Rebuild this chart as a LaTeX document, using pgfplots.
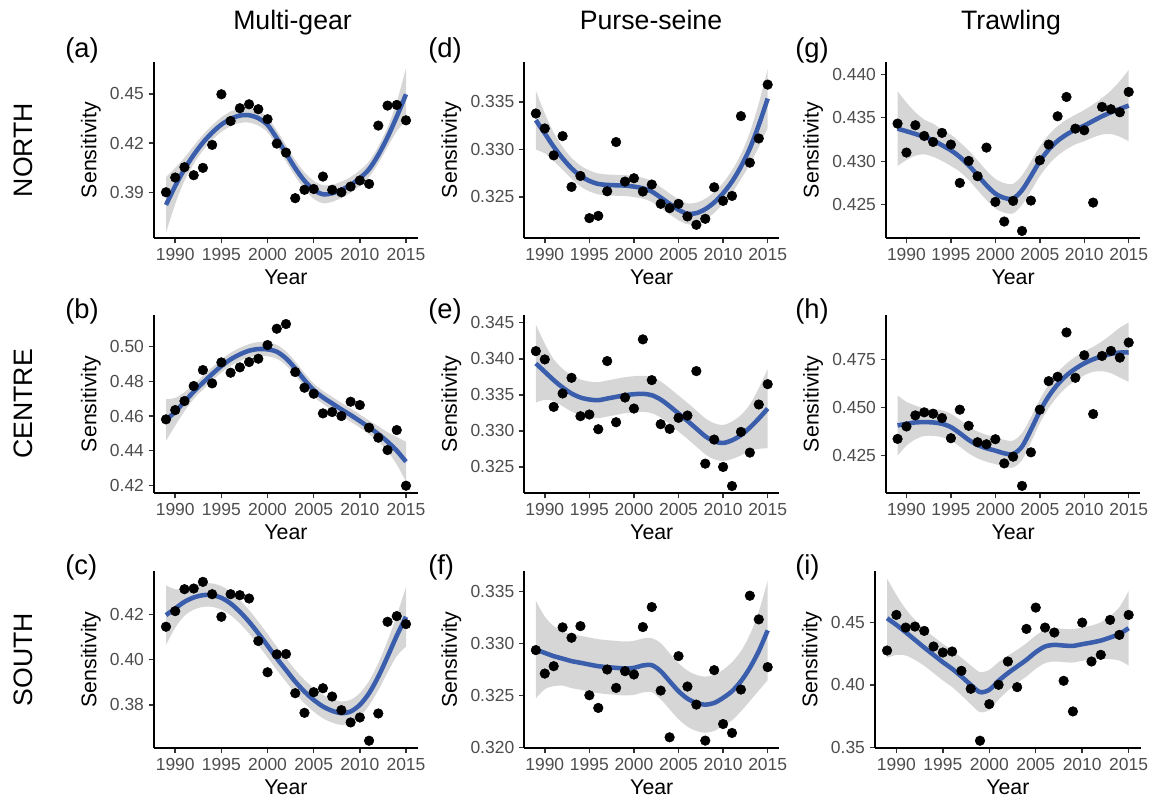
\documentclass[border=0pt]{standalone}
\usepackage{fontspec}
\setmainfont{Liberation Sans}
\usepackage{pgfplots}
\pgfplotsset{compat=1.18}
\usepackage{pgfplotstable}
\usepgfplotslibrary{fillbetween}
\definecolor{fitblue}{RGB}{59,94,172}
\definecolor{bandgray}{HTML}{999999}
\definecolor{tickgray}{HTML}{4D4D4D}

% columns: year, observed point, fitted curve, half-width of band
\pgfplotstableread{
yr p f s
1989 0.3900 0.3823 0.0170
1990 0.3990 0.3939 0.0110
1991 0.4053 0.4041 0.0070
1992 0.4004 0.4128 0.0055
1993 0.4049 0.4203 0.0048
1994 0.4189 0.4264 0.0045
1995 0.4498 0.4313 0.0045
1996 0.4335 0.4348 0.0045
1997 0.4413 0.4368 0.0045
1998 0.4437 0.4370 0.0045
1999 0.4407 0.4352 0.0045
2000 0.4346 0.4311 0.0045
2001 0.4197 0.4230 0.0048
2002 0.4142 0.4138 0.0050
2003 0.3864 0.4047 0.0050
2004 0.3915 0.3970 0.0052
2005 0.3920 0.3915 0.0055
2006 0.3996 0.3888 0.0055
2007 0.3915 0.3894 0.0052
2008 0.3900 0.3915 0.0050
2009 0.3935 0.3945 0.0048
2010 0.3972 0.3986 0.0048
2011 0.3951 0.4041 0.0048
2012 0.4307 0.4128 0.0052
2013 0.4429 0.4236 0.0060
2014 0.4433 0.4362 0.0090
2015 0.4339 0.4498 0.0160
}\tabA
\pgfplotstableread{
yr p f s
1989 0.45808 0.45769 0.0120
1990 0.46346 0.46250 0.0080
1991 0.46865 0.46827 0.0055
1992 0.47731 0.47404 0.0042
1993 0.48654 0.47923 0.0040
1994 0.47885 0.48423 0.0038
1995 0.49096 0.48885 0.0038
1996 0.48500 0.49269 0.0038
1997 0.48808 0.49558 0.0038
1998 0.49115 0.49769 0.0038
1999 0.49308 0.49865 0.0040
2000 0.50096 0.49846 0.0040
2001 0.51038 0.49712 0.0040
2002 0.51308 0.49327 0.0040
2003 0.48538 0.48750 0.0040
2004 0.47635 0.48077 0.0040
2005 0.47288 0.47500 0.0038
2006 0.46154 0.47077 0.0038
2007 0.46231 0.46731 0.0038
2008 0.46000 0.46385 0.0038
2009 0.46827 0.46058 0.0038
2010 0.46635 0.45712 0.0038
2011 0.45327 0.45346 0.0040
2012 0.44750 0.44962 0.0045
2013 0.44038 0.44519 0.0055
2014 0.45192 0.44000 0.0080
2015 0.41981 0.43365 0.0115
}\tabB
\pgfplotstableread{
yr p f s
1989 0.41456 0.41971 0.0132
1990 0.42147 0.42265 0.0085
1991 0.43118 0.42559 0.0062
1992 0.43147 0.42750 0.0054
1993 0.43441 0.42853 0.0052
1994 0.42897 0.42853 0.0052
1995 0.41897 0.42735 0.0052
1996 0.42897 0.42485 0.0052
1997 0.42853 0.42118 0.0052
1998 0.42706 0.41676 0.0052
1999 0.40824 0.41162 0.0052
2000 0.39441 0.40618 0.0052
2001 0.40235 0.40059 0.0052
2002 0.40250 0.39544 0.0052
2003 0.38515 0.39029 0.0052
2004 0.37647 0.38588 0.0052
2005 0.38559 0.38221 0.0052
2006 0.38735 0.37926 0.0052
2007 0.38368 0.37735 0.0052
2008 0.37765 0.37632 0.0052
2009 0.37221 0.37706 0.0052
2010 0.37441 0.38000 0.0052
2011 0.36412 0.38515 0.0054
2012 0.37618 0.39250 0.0060
2013 0.41676 0.40132 0.0070
2014 0.41926 0.41059 0.0090
2015 0.41574 0.41897 0.0132
}\tabC
\pgfplotstableread{
yr p f s
1989 0.33378 0.33308 0.0031
1990 0.33220 0.33168 0.0021
1991 0.32937 0.33028 0.0015
1992 0.33140 0.32906 0.0012
1993 0.32605 0.32801 0.0011
1994 0.32720 0.32720 0.0011
1995 0.32276 0.32668 0.0011
1996 0.32300 0.32636 0.0011
1997 0.32559 0.32626 0.0011
1998 0.33077 0.32622 0.0011
1999 0.32661 0.32619 0.0011
2000 0.32696 0.32608 0.0011
2001 0.32556 0.32591 0.0011
2002 0.32630 0.32556 0.0011
2003 0.32427 0.32493 0.0011
2004 0.32381 0.32427 0.0011
2005 0.32427 0.32364 0.0011
2006 0.32294 0.32322 0.0011
2007 0.32206 0.32329 0.0011
2008 0.32269 0.32371 0.0011
2009 0.32601 0.32441 0.0011
2010 0.32458 0.32538 0.0011
2011 0.32510 0.32661 0.0012
2012 0.33350 0.32818 0.0013
2013 0.32860 0.33010 0.0017
2014 0.33115 0.33255 0.0023
2015 0.33682 0.33535 0.0031
}\tabD
\pgfplotstableread{
yr p f s
1989 0.34106 0.33935 0.0054
1990 0.33991 0.33820 0.0039
1991 0.33333 0.33704 0.0029
1992 0.33519 0.33602 0.0026
1993 0.33736 0.33519 0.0025
1994 0.33204 0.33463 0.0025
1995 0.33227 0.33435 0.0025
1996 0.33023 0.33426 0.0025
1997 0.33968 0.33449 0.0025
1998 0.33120 0.33472 0.0025
1999 0.33463 0.33495 0.0025
2000 0.33310 0.33509 0.0025
2001 0.34269 0.33514 0.0025
2002 0.33704 0.33495 0.0025
2003 0.33093 0.33435 0.0025
2004 0.33028 0.33343 0.0025
2005 0.33181 0.33241 0.0025
2006 0.33213 0.33139 0.0025
2007 0.33829 0.33032 0.0025
2008 0.32546 0.32926 0.0025
2009 0.32880 0.32856 0.0025
2010 0.32500 0.32833 0.0025
2011 0.32236 0.32870 0.0026
2012 0.32986 0.32940 0.0028
2013 0.32699 0.33046 0.0032
2014 0.33366 0.33171 0.0042
2015 0.33648 0.33310 0.0055
}\tabE
\pgfplotstableread{
yr p f s
1989 0.32937 0.32943 0.0047
1990 0.32711 0.32910 0.0035
1991 0.32782 0.32879 0.0029
1992 0.33156 0.32855 0.0026
1993 0.33056 0.32831 0.0026
1994 0.33168 0.32815 0.0026
1995 0.32502 0.32798 0.0026
1996 0.32380 0.32782 0.0026
1997 0.32750 0.32773 0.0026
1998 0.32573 0.32766 0.0026
1999 0.32734 0.32760 0.0026
2000 0.32702 0.32766 0.0026
2001 0.33159 0.32789 0.0026
2002 0.33352 0.32792 0.0026
2003 0.32547 0.32734 0.0027
2004 0.32097 0.32637 0.0027
2005 0.32879 0.32541 0.0027
2006 0.32586 0.32470 0.0027
2007 0.32412 0.32428 0.0027
2008 0.32065 0.32412 0.0027
2009 0.32744 0.32428 0.0027
2010 0.32225 0.32477 0.0027
2011 0.32139 0.32541 0.0028
2012 0.32557 0.32637 0.0029
2013 0.33461 0.32766 0.0032
2014 0.33233 0.32927 0.0038
2015 0.32773 0.33127 0.0048
}\tabF
\pgfplotstableread{
yr p f s
1989 0.43433 0.43375 0.0043
1990 0.43100 0.43345 0.0033
1991 0.43414 0.43314 0.0025
1992 0.43291 0.43280 0.0020
1993 0.43222 0.43241 0.0019
1994 0.43326 0.43184 0.0018
1995 0.43192 0.43126 0.0018
1996 0.42751 0.43050 0.0017
1997 0.43004 0.42954 0.0017
1998 0.42828 0.42839 0.0017
1999 0.43157 0.42724 0.0017
2000 0.42533 0.42628 0.0017
2001 0.42307 0.42579 0.0017
2002 0.42544 0.42571 0.0017
2003 0.42199 0.42667 0.0017
2004 0.42548 0.42828 0.0017
2005 0.43011 0.43000 0.0017
2006 0.43192 0.43134 0.0017
2007 0.43517 0.43234 0.0017
2008 0.43739 0.43307 0.0017
2009 0.43375 0.43364 0.0017
2010 0.43356 0.43410 0.0018
2011 0.42525 0.43464 0.0019
2012 0.43625 0.43517 0.0021
2013 0.43598 0.43563 0.0025
2014 0.43563 0.43602 0.0032
2015 0.43797 0.43640 0.0041
}\tabG
\pgfplotstableread{
yr p f s
1989 0.43357 0.44056 0.0157
1990 0.44003 0.44143 0.0114
1991 0.44580 0.44213 0.0088
1992 0.44738 0.44230 0.0072
1993 0.44668 0.44213 0.0070
1994 0.44441 0.44143 0.0070
1995 0.43392 0.43969 0.0070
1996 0.44878 0.43654 0.0070
1997 0.44038 0.43304 0.0070
1998 0.43182 0.43042 0.0070
1999 0.43077 0.42867 0.0070
2000 0.43339 0.42745 0.0070
2001 0.42080 0.42605 0.0070
2002 0.42430 0.42570 0.0070
2003 0.40909 0.42955 0.0070
2004 0.42657 0.43829 0.0065
2005 0.44878 0.44790 0.0062
2006 0.46364 0.45577 0.0062
2007 0.46591 0.46189 0.0062
2008 0.48899 0.46661 0.0062
2009 0.46538 0.47010 0.0062
2010 0.47710 0.47290 0.0062
2011 0.44650 0.47500 0.0065
2012 0.47675 0.47657 0.0078
2013 0.47937 0.47780 0.0100
2014 0.47587 0.47850 0.0130
2015 0.48374 0.47867 0.0154
}\tabH
\pgfplotstableread{
yr p f s
1989 0.42739 0.45319 0.0316
1990 0.45585 0.44787 0.0240
1991 0.44574 0.44202 0.0186
1992 0.44654 0.43590 0.0160
1993 0.44309 0.42979 0.0146
1994 0.43059 0.42394 0.0146
1995 0.42580 0.41809 0.0146
1996 0.42660 0.41277 0.0146
1997 0.41117 0.40665 0.0150
1998 0.39681 0.40000 0.0155
1999 0.35532 0.39415 0.0160
2000 0.38457 0.39601 0.0160
2001 0.40000 0.40319 0.0150
2002 0.41862 0.40931 0.0140
2003 0.39814 0.41463 0.0133
2004 0.44468 0.41995 0.0133
2005 0.46170 0.42606 0.0133
2006 0.44574 0.43059 0.0133
2007 0.44176 0.43191 0.0133
2008 0.40319 0.43138 0.0133
2009 0.37872 0.43112 0.0133
2010 0.44973 0.43245 0.0133
2011 0.41862 0.43378 0.0136
2012 0.42394 0.43537 0.0146
2013 0.45186 0.43777 0.0173
2014 0.43989 0.44069 0.0213
2015 0.45585 0.44521 0.0298
}\tabI

\pgfplotsset{
  panel/.style={
    set layers,
    scale only axis, anchor=south west,
    xmin=1987.7, xmax=2016.3,
    axis x line*=bottom, axis y line*=left,
    axis line style={line width=1.5pt, black, -},
    tick align=outside,
    major tick length=4pt,
    tick style={line width=1.1pt, color=black!80},
    xtick={1990,1995,2000,2005,2010,2015},
    xticklabels={1990,1995,2000,2005,2010,2015},
    ticklabel style={font=\fontsize{13.1}{15}\selectfont, text=tickgray},
    label style={font=\fontsize{16}{19}\selectfont},
    xlabel={Year}, ylabel={Sensitivity},
    scaled y ticks=false,
  },
}
\newcommand{\drawpanel}[1]{%
  \addplot[on layer=axis background, only marks, mark=*, mark size=3.6pt, black] table[x=yr, y=p] {#1};
  \addplot[name path=U, draw=none, smooth] table[x=yr, y expr=\thisrow{f}+\thisrow{s}] {#1};
  \addplot[name path=L, draw=none, smooth] table[x=yr, y expr=\thisrow{f}-\thisrow{s}] {#1};
  \addplot[fill=bandgray, fill opacity=0.4, draw=none] fill between[of=U and L];
  \addplot[fitblue, line width=3.4pt, smooth] table[x=yr, y=f] {#1};
}
\newcommand{\ttl}{\fontsize{20}{24}\selectfont}
\newcommand{\ptag}{\fontsize{20.5}{24}\selectfont}

\begin{document}
\begin{tikzpicture}

% column 1
\begin{axis}[panel, at={(115.5pt,-178.5pt)}, width=198pt, height=132pt,
  ymin=0.3621, ymax=0.4695, ytick={0.39,0.42,0.45}, yticklabels={0.39,0.42,0.45}]
\drawpanel{\tabA}
\end{axis}
\begin{axis}[panel, at={(115.5pt,-369.75pt)}, width=198pt, height=133.5pt,
  ymin=0.4156, ymax=0.5183, ytick={0.42,0.44,0.46,0.48,0.50}, yticklabels={0.42,0.44,0.46,0.48,0.50}]
\drawpanel{\tabB}
\end{axis}
\begin{axis}[panel, at={(115.5pt,-561pt)}, width=198pt, height=132.75pt,
  ymin=0.3609, ymax=0.43923, ytick={0.38,0.40,0.42}, yticklabels={0.38,0.40,0.42}]
\drawpanel{\tabC}
\end{axis}

% column 2
\begin{axis}[panel, at={(393.2pt,-178.5pt)}, width=191.25pt, height=132pt,
  ymin=0.32067, ymax=0.3392, ytick={0.325,0.330,0.335}, yticklabels={0.325,0.330,0.335}]
\drawpanel{\tabD}
\end{axis}
\begin{axis}[panel, at={(393.2pt,-369.75pt)}, width=191.25pt, height=133.5pt,
  ymin=0.32139, ymax=0.34607, ytick={0.325,0.330,0.335,0.340,0.345}, yticklabels={0.325,0.330,0.335,0.340,0.345}]
\drawpanel{\tabE}
\end{axis}
\begin{axis}[panel, at={(393.2pt,-561pt)}, width=191.25pt, height=132.75pt,
  ymin=0.31994, ymax=0.33699, ytick={0.320,0.325,0.330,0.335}, yticklabels={0.320,0.325,0.330,0.335}]
\drawpanel{\tabF}
\end{axis}

% column 3
\begin{axis}[panel, at={(664.5pt,-178.5pt)}, width=190.7pt, height=132pt,
  ymin=0.42118, ymax=0.44141, ytick={0.425,0.430,0.435,0.440}, yticklabels={0.425,0.430,0.435,0.440}]
\drawpanel{\tabG}
\end{axis}
\begin{axis}[panel, at={(664.5pt,-369.75pt)}, width=190.7pt, height=133.5pt,
  ymin=0.40539, ymax=0.49807, ytick={0.425,0.450,0.475}, yticklabels={0.425,0.450,0.475}]
\drawpanel{\tabH}
\end{axis}
\begin{axis}[panel, at={(656.25pt,-561pt)}, width=199.3pt, height=132.75pt,
  ymin=0.3495, ymax=0.49094, ytick={0.35,0.40,0.45}, yticklabels={0.35,0.40,0.45}]
\drawpanel{\tabI}
\end{axis}

% titles
\node[font=\ttl, anchor=base] at (219.4pt,-22.1pt) {Multi-gear};
\node[font=\ttl, anchor=base] at (488.25pt,-22.1pt) {Purse-seine};
\node[font=\ttl, anchor=base] at (758.25pt,-22.1pt) {Trawling};
\node[font=\ttl, rotate=90] at (17.6pt,-112.5pt) {NORTH};
\node[font=\ttl, rotate=90] at (17.6pt,-303pt) {CENTRE};
\node[font=\ttl, rotate=90] at (17.6pt,-494.6pt) {SOUTH};

% panel tags
\node[font=\ptag, anchor=base west, inner sep=0] at (48.75pt,-43.1pt) {(a)};
\node[font=\ptag, anchor=base west, inner sep=0] at (48.75pt,-239.25pt) {(b)};
\node[font=\ptag, anchor=base west, inner sep=0] at (48.75pt,-430.5pt) {(c)};
\node[font=\ptag, anchor=base west, inner sep=0] at (321pt,-43.1pt) {(d)};
\node[font=\ptag, anchor=base west, inner sep=0] at (321pt,-239.25pt) {(e)};
\node[font=\ptag, anchor=base west, inner sep=0] at (321pt,-430.5pt) {(f)};
\node[font=\ptag, anchor=base west, inner sep=0] at (596.25pt,-43.1pt) {(g)};
\node[font=\ptag, anchor=base west, inner sep=0] at (596.25pt,-239.25pt) {(h)};
\node[font=\ptag, anchor=base west, inner sep=0] at (596.25pt,-430.5pt) {(i)};

\path[use as bounding box] (0,0) rectangle (873pt,-601.5pt);
\end{tikzpicture}
\end{document}
